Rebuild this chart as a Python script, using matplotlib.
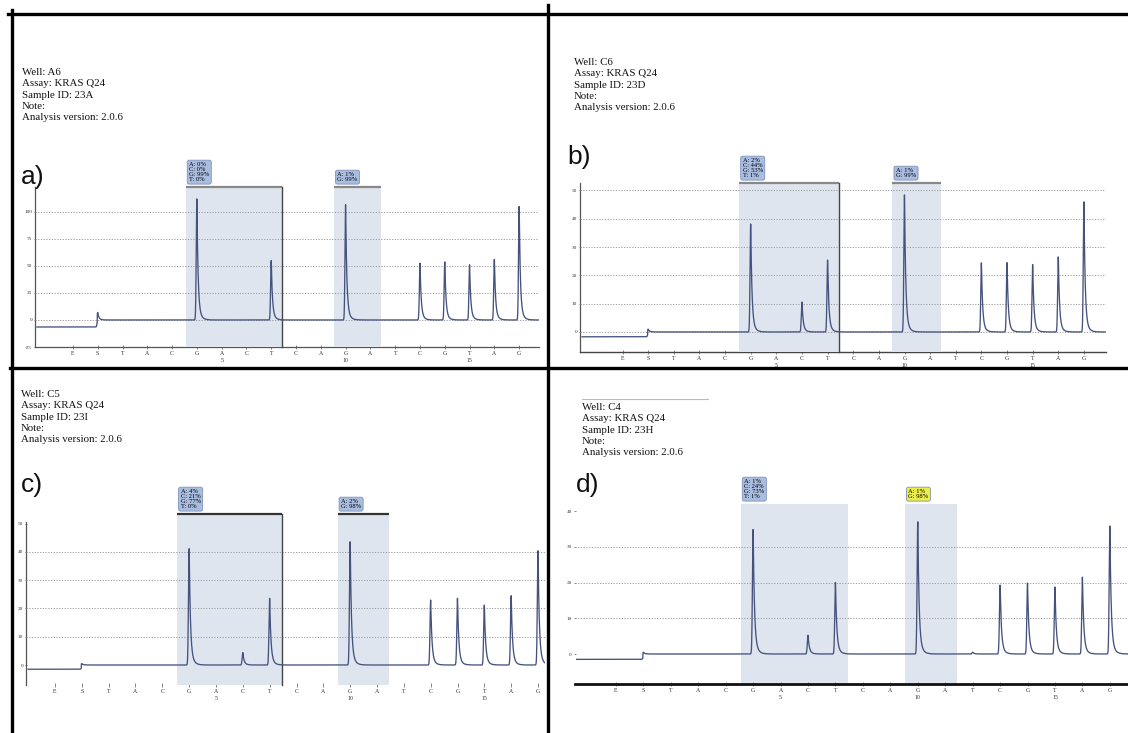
import numpy as np
import matplotlib.pyplot as plt
from matplotlib.lines import Line2D

W, H = 1128, 733

# dispensation order (E = enzyme, S = substrate)
dispensations = ['E', 'S', 'T', 'A', 'C', 'G', 'A', 'C', 'T', 'C',
                 'A', 'G', 'A', 'T', 'C', 'G', 'T', 'A', 'G']
position_numbers = {6: '5', 11: '10', 16: '15'}

# peak heights per dispensation
heights_a = [0, 7, 0, 0, 0, 113, 0, 0, 55, 0, 0, 107, 0, 0, 53, 54, 51, 56, 105]
heights_b = [0, 1, 0, 0, 0, 38.5, 0, 10.6, 25.4, 0, 0, 48.7, 0, 0, 24.4, 24.6, 24, 26.6, 46]
heights_c = [0, 0.5, 0, 0, 0, 41.3, 0, 4.4, 23.6, 0, 0, 44, 0, 0, 23, 23.6, 21.2, 24.7, 40.6]
heights_d = [0, 0.5, 0, 0, 0, 35, 0, 5.3, 20.2, 0, 0, 37, 0, 0.5, 19.3, 19.9, 18.8, 21.6, 36]
start_levels = [-6.5, -1.7, -1.5, -1.5]

info_a = "Well: A6\nAssay: KRAS Q24\nSample ID: 23A\nNote:\nAnalysis version: 2.0.6"
info_b = "Well: C6\nAssay: KRAS Q24\nSample ID: 23D\nNote:\nAnalysis version: 2.0.6"
info_c = "Well: C5\nAssay: KRAS Q24\nSample ID: 23I\nNote:\nAnalysis version: 2.0.6"
info_d = "Well: C4\nAssay: KRAS Q24\nSample ID: 23H\nNote:\nAnalysis version: 2.0.6"

box1_a = "A: 0%\nC: 0%\nG: 99%\nT: 0%"
box2_a = "A: 1%\nG: 99%"
box1_b = "A: 2%\nC: 44%\nG: 53%\nT: 1%"
box2_b = "A: 1%\nG: 99%"
box1_c = "A: 4%\nC: 21%\nG: 77%\nT: 0%"
box2_c = "A: 2%\nG: 98%"
box1_d = "A: 1%\nC: 24%\nG: 73%\nT: 1%"
box2_d = "A: 1%\nG: 98%"

region1 = (4.55, 8.45)
region2 = (10.53, 12.43)

serif = 'Liberation Serif'
trace_col = '#46527e'
shade_col = '#dfe5ef'

fig = plt.figure(figsize=(W / 100, H / 100), dpi=100)


def fx(x):
    return x / W


def fy(y):
    return 1 - y / H


def trace(heights, start, x0, x1):
    x = np.linspace(x0, x1, 5000)
    y = np.where(x < 0.98, start, 0.0)
    for i, h in enumerate(heights):
        d = x - i
        y = y + h * np.where(d < 0, np.exp(-(d / 0.035) ** 2),
                             0.85 * np.exp(-d / 0.045) + 0.15 * np.exp(-d / 0.11))
    return x, y


def panel(px, xlim, ylim, heights, start, yticks, grid, info, info_xy, letter, letter_xy,
          boxes, box2_col, left_spine, bottom_spine, top_line, right_line, spine_top=None):
    sx, rx, ty, by = px
    ax = fig.add_axes([fx(sx), fy(by), fx(rx - sx), (by - ty) / H])
    ax.patch.set_alpha(0)
    ax.set_xlim(*xlim)
    ax.set_ylim(*ylim)
    for s in ['top', 'right']:
        ax.spines[s].set_visible(False)
    if left_spine:
        ax.spines['left'].set_color('#555555')
        ax.spines['left'].set_linewidth(0.9)
        if spine_top is not None:
            ax.spines['left'].set_bounds(ylim[0], spine_top)
    else:
        ax.spines['left'].set_visible(False)
    if bottom_spine:
        ax.spines['bottom'].set_color(bottom_spine[0])
        ax.spines['bottom'].set_linewidth(bottom_spine[1])
    else:
        ax.spines['bottom'].set_visible(False)

    zs = 1 if bottom_spine and bottom_spine[1] > 1.5 else 2.6
    for (a, b), txt, fc in [(region1, boxes[0], '#a9bde0'), (region2, boxes[1], box2_col)]:
        ax.axvspan(a, b, color=shade_col, lw=0, zorder=zs)
        if top_line:
            ax.plot([a, b], [ylim[1], ylim[1]], color=top_line, lw=1.6, zorder=3,
                    clip_on=False, solid_capstyle='butt')
        ax.annotate(txt, xy=(a, 1), xycoords=('data', 'axes fraction'),
                    xytext=(2.5, 3.5), textcoords='offset points', va='bottom', ha='left',
                    fontsize=4.7, family=serif, linespacing=1.0,
                    bbox=dict(boxstyle='round,pad=0.3', fc=fc, ec='#7f92b8', lw=0.6))
    if right_line:
        ax.plot([region1[1], region1[1]], [ylim[0], ylim[1]], color='#444444', lw=1.0,
                zorder=3, clip_on=False)

    for g in grid:
        ax.axhline(g, color='#999999', lw=0.7, ls=(0, (1.2, 1.6)), zorder=2.7)

    x, y = trace(heights, start, xlim[0] + 0.08, xlim[1] - 0.02)
    ax.plot(x, y, color=trace_col, lw=0.95, zorder=4)

    ax.set_yticks(yticks)
    ax.set_yticklabels([str(t) for t in yticks], fontsize=3.8, family=serif, color='#333333')
    ax.tick_params(axis='y', length=2, width=0.5, pad=1, direction='inout', color='#555555')
    ax.set_xticks(range(len(dispensations)))
    labels = [d + ('\n' + position_numbers[i] if i in position_numbers else '')
              for i, d in enumerate(dispensations)]
    ax.set_xticklabels(labels, fontsize=4.2, family=serif, color='#333333', linespacing=1.5)
    ax.tick_params(axis='x', length=2.5, width=0.5, pad=1.5, direction='inout', color='#555555')

    fig.text(fx(info_xy[0]), fy(info_xy[1]), info, va='top', ha='left', fontsize=7.8,
             family=serif, linespacing=1.33, color='#111111')
    fig.text(fx(letter_xy[0]), fy(letter_xy[1]), letter, va='center', ha='left', fontsize=19,
             family='Liberation Sans', color='#111111')
    return ax


panel((35, 539, 187, 347), (-1.53, 18.8), (-25, 123), heights_a, start_levels[0],
      [-25, 0, 25, 50, 75, 100], [0, 25, 50, 75, 100], info_a, (22, 68), 'a)', (21, 177),
      (box1_a, box2_a), '#a9bde0', True, ('#555555', 0.9), '#888888', True)

panel((580, 1106, 183, 352), (-1.66, 18.86), (-7.07, 52.6), heights_b, start_levels[1],
      [0, 10, 20, 30, 40, 50], [0, 10, 20, 30, 40, 50], info_b, (574, 58), 'b)', (567, 157),
      (box1_b, box2_b), '#a9bde0', True, ('#444444', 1.0), '#888888', True)

panel((26, 545, 514, 685), (-1.08, 18.26), (-7.07, 53.4), heights_c, start_levels[2],
      [0, 10, 20, 30, 40, 50], [10, 20, 30, 40], info_c, (21, 390), 'c)', (21, 485),
      (box1_c, box2_c), '#a9bde0', True, None, '#333333', True, spine_top=50.5)

panel((574.5, 1128, 504, 684), (-1.51, 18.66), (-8.4, 42), heights_d, start_levels[3],
      [0, 10, 20, 30, 40], [10, 20, 30], info_d, (582, 403), 'd)', (576, 485),
      (box1_d, box2_d), '#eeee44', False, ('#111111', 2.0), None, False)

# thin rule above the panel d header
fig.add_artist(Line2D([fx(582), fx(708)], [fy(399), fy(399)], color='#bbbbbb', lw=0.8))

# thick panel borders
for xs, ys in [((8, 1128), (14, 14)), ((12, 12), (10, 733)),
               ((548, 548), (5, 733)), ((10, 1128), (368, 368))]:
    fig.add_artist(Line2D([fx(xs[0]), fx(xs[1])], [fy(ys[0]), fy(ys[1])],
                          color='black', lw=2.4))

fig.savefig('out.png', dpi=100)
